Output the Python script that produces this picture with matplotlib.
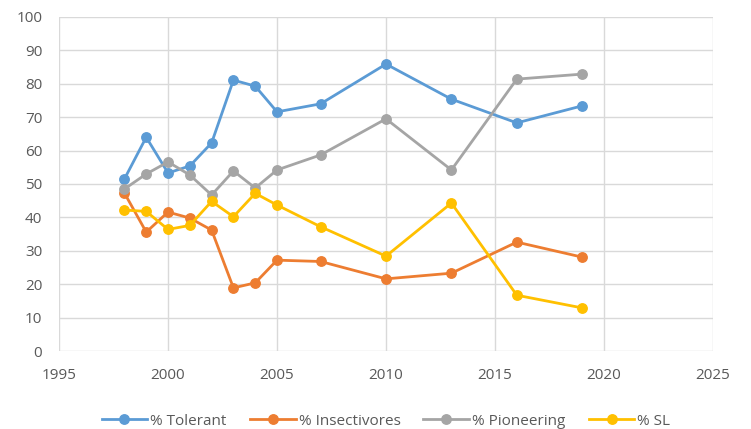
import matplotlib
matplotlib.use("Agg")
import matplotlib.pyplot as plt

years = [1998, 1999, 2000, 2001, 2002, 2003, 2004, 2005, 2007, 2010, 2013, 2016, 2019]
tolerant = [51.5, 64, 53.3, 55.4, 62.3, 81.1, 79.3, 71.6, 74, 85.9, 75.4, 68.3, 73.4]
insectivores = [47.3, 35.6, 41.6, 39.8, 36.2, 18.9, 20.4, 27.2, 26.8, 21.6, 23.3, 32.6, 28.1]
pioneering = [48.5, 53, 56.6, 52.7, 46.7, 53.9, 48.8, 54.2, 58.7, 69.5, 54.2, 81.4, 82.9]
sl = [42.2, 41.8, 36.4, 37.6, 44.8, 40.2, 47.2, 43.7, 37.2, 28.4, 44.3, 16.7, 12.9]
series_names = ["% Tolerant", "% Insectivores", "% Pioneering", "% SL"]
colors = ["#5B9BD5", "#ED7D31", "#A5A5A5", "#FFC000"]
xticks = [1995, 2000, 2005, 2010, 2015, 2020, 2025]
yticks = list(range(0, 101, 10))

plt.rcParams['font.family'] = ['Open Sans', 'DejaVu Sans']

fig = plt.figure(figsize=(7.51, 4.29), dpi=100)
ax = fig.add_axes([0.0786, 0.1818, 0.8708, 0.7786])

for name, vals, c in zip(series_names, [tolerant, insectivores, pioneering, sl], colors):
    ax.plot(years, vals, color=c, lw=2.0, marker='o', markersize=6.8, label=name, zorder=3)

ax.set_xlim(1995, 2025)
ax.set_ylim(0, 100)
ax.set_xticks(xticks)
ax.set_yticks(yticks)
ax.grid(True, color="#D9D9D9", lw=1.0, zorder=0)
for s in ax.spines.values():
    s.set_visible(False)
ax.tick_params(length=0, colors="#595959", labelsize=11)
ax.tick_params(axis='y', pad=12)
ax.tick_params(axis='x', pad=12)

ax.legend(loc='center', bbox_to_anchor=(0.5, -0.21), ncol=4, frameon=False,
          fontsize=11, labelcolor="#595959", handlelength=3, columnspacing=1.5,
          handletextpad=0.2)

fig.savefig("out.png", dpi=100)
